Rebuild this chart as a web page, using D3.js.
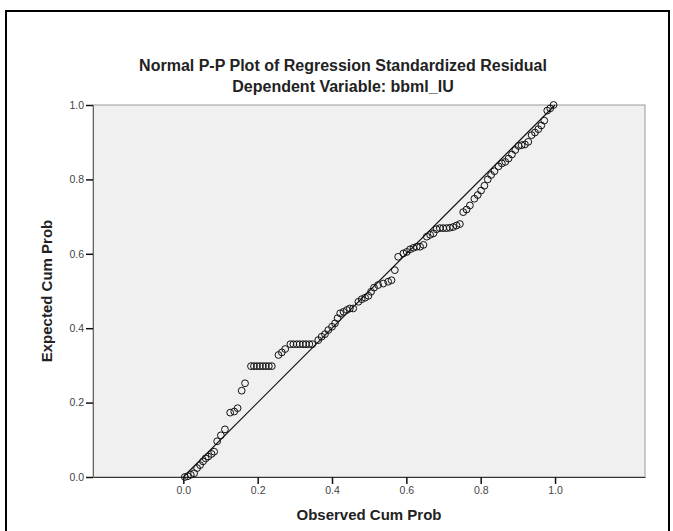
<!DOCTYPE html>
<html>
<head>
<meta charset="utf-8">
<script src="https://cdn.jsdelivr.net/npm/d3@7"></script>
<style>
  body { margin: 0; background: #fff; }
  svg text { font-family: "Liberation Sans", Arial, sans-serif; }
</style>
</head>
<body>
<div id="chart"></div>
<script>
// observed cumulative probability (x) and expected cumulative probability (y)
const observed = [
  0.004, 0.012, 0.020, 0.029, 0.037, 0.045, 0.053, 0.060, 0.067, 0.076,
  0.083, 0.091, 0.101, 0.112, 0.126, 0.137, 0.146, 0.157, 0.166,
  0.182, 0.190, 0.198, 0.206, 0.214, 0.222, 0.230, 0.238,
  0.256, 0.265, 0.274,
  0.288, 0.296, 0.305, 0.313, 0.322, 0.330, 0.339, 0.347,
  0.363, 0.372, 0.381, 0.390, 0.400, 0.408, 0.415, 0.422, 0.431, 0.440,
  0.448, 0.457, 0.471, 0.480, 0.489, 0.498, 0.505, 0.513, 0.524, 0.538,
  0.551, 0.560, 0.569, 0.578, 0.592, 0.601, 0.610, 0.619, 0.628, 0.637,
  0.646, 0.655, 0.664, 0.673, 0.681, 0.690, 0.699, 0.708, 0.717, 0.726,
  0.735, 0.744, 0.753, 0.762, 0.771, 0.783, 0.792, 0.801, 0.810, 0.819,
  0.828, 0.837, 0.848, 0.857, 0.866, 0.875, 0.884, 0.893, 0.902, 0.910,
  0.919, 0.928, 0.937, 0.946, 0.955, 0.963, 0.971, 0.979, 0.987, 0.996
];
const expected = [
  0.000, 0.002, 0.006, 0.010, 0.024, 0.032, 0.042, 0.050, 0.055, 0.062,
  0.068, 0.096, 0.112, 0.128, 0.173, 0.176, 0.185, 0.232, 0.252,
  0.298, 0.298, 0.298, 0.298, 0.298, 0.298, 0.298, 0.298,
  0.328, 0.335, 0.344,
  0.357, 0.357, 0.357, 0.357, 0.357, 0.357, 0.357, 0.357,
  0.368, 0.377, 0.384, 0.395, 0.404, 0.413, 0.427, 0.440, 0.444, 0.449,
  0.453, 0.453, 0.471, 0.478, 0.482, 0.487, 0.498, 0.509, 0.516, 0.520,
  0.525, 0.529, 0.556, 0.592, 0.601, 0.605, 0.612, 0.616, 0.619, 0.619,
  0.624, 0.646, 0.651, 0.655, 0.666, 0.669, 0.669, 0.669, 0.670, 0.672,
  0.676, 0.680, 0.712, 0.719, 0.730, 0.748, 0.758, 0.770, 0.783, 0.800,
  0.812, 0.822, 0.835, 0.843, 0.847, 0.856, 0.867, 0.879, 0.890, 0.892,
  0.894, 0.901, 0.919, 0.926, 0.935, 0.945, 0.958, 0.985, 0.991, 1.000
];
const xTicks = [0.0, 0.2, 0.4, 0.6, 0.8, 1.0];
const yTicks = [0.0, 0.2, 0.4, 0.6, 0.8, 1.0];
const title = "Normal P-P Plot of Regression Standardized Residual";
const subtitle = "Dependent Variable: bbml_IU";
const xTitle = "Observed Cum Prob";
const yTitle = "Expected Cum Prob";

const width = 673;
const height = 531;
const plot = { left: 93, right: 645, top: 105, bottom: 477 };

const points = observed.map((d, i) => ({ x: d, y: expected[i] }));

const x = d3.scaleLinear()
  .domain([-0.243, 1.242])
  .range([plot.left, plot.right]);
const y = d3.scaleLinear()
  .domain([0, 1])
  .range([plot.bottom, plot.top]);

const svg = d3.select("#chart").append("svg")
  .attr("width", width)
  .attr("height", height);

// outer frame, its bottom edge runs past the picture
svg.append("rect")
  .attr("x", 6).attr("y", 11)
  .attr("width", 663).attr("height", 540)
  .attr("fill", "none")
  .attr("stroke", "#000")
  .attr("stroke-width", 2);

svg.append("text")
  .attr("x", 343)
  .attr("y", 71)
  .attr("text-anchor", "middle")
  .attr("font-size", 16)
  .attr("font-weight", "bold")
  .attr("fill", "#222")
  .text(title);

svg.append("text")
  .attr("x", 343)
  .attr("y", 92)
  .attr("text-anchor", "middle")
  .attr("font-size", 16)
  .attr("font-weight", "bold")
  .attr("fill", "#222")
  .text(subtitle);

// plot background
svg.append("rect")
  .attr("x", plot.left).attr("y", plot.top)
  .attr("width", plot.right - plot.left)
  .attr("height", plot.bottom - plot.top)
  .attr("fill", "#f0f0f0")
  .attr("stroke", "#999")
  .attr("stroke-width", 1);

const xAxis = svg.append("g")
  .attr("transform", `translate(0,${plot.bottom})`)
  .call(d3.axisBottom(x).tickValues(xTicks).tickFormat(d3.format(".1f")).tickSize(7).tickSizeOuter(0));
xAxis.select(".domain").attr("stroke", "#333");
xAxis.selectAll(".tick line").attr("stroke", "#111").attr("stroke-width", 1.5);
xAxis.selectAll(".tick text")
  .attr("font-size", 10.5)
  .attr("fill", "#444");

const yAxis = svg.append("g")
  .attr("transform", `translate(${plot.left},0)`)
  .call(d3.axisLeft(y).tickValues(yTicks).tickFormat(d3.format(".1f")).tickSize(7).tickSizeOuter(0));
yAxis.select(".domain").attr("stroke", "#666");
yAxis.selectAll(".tick line").attr("stroke", "#111").attr("stroke-width", 1.5);
yAxis.selectAll(".tick text")
  .attr("font-size", 10.5)
  .attr("fill", "#444")
  .attr("x", -9);

svg.append("text")
  .attr("x", (plot.left + plot.right) / 2)
  .attr("y", 520)
  .attr("text-anchor", "middle")
  .attr("font-size", 15)
  .attr("font-weight", "bold")
  .attr("fill", "#222")
  .text(xTitle);

svg.append("text")
  .attr("transform", `translate(52,${(plot.top + plot.bottom) / 2}) rotate(-90)`)
  .attr("text-anchor", "middle")
  .attr("font-size", 15)
  .attr("font-weight", "bold")
  .attr("fill", "#222")
  .text(yTitle);

// diagonal reference line
svg.append("line")
  .attr("x1", x(0)).attr("y1", y(0))
  .attr("x2", x(1)).attr("y2", y(1))
  .attr("stroke", "#111")
  .attr("stroke-width", 1.2);

svg.append("g")
  .selectAll("circle")
  .data(points)
  .join("circle")
  .attr("cx", (d) => x(d.x))
  .attr("cy", (d) => y(d.y))
  .attr("r", 3.4)
  .attr("fill", "none")
  .attr("stroke", "#111")
  .attr("stroke-width", 1);
</script>
</body>
</html>
